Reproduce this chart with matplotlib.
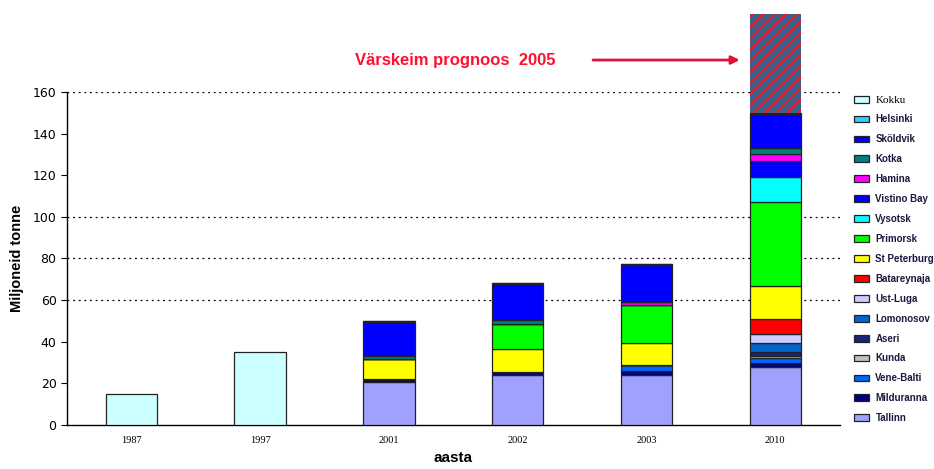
import matplotlib.pyplot as plt
import numpy as np

plt.rcParams['hatch.linewidth'] = 1.4

years = ['1987', '1997', '2001', '2002', '2003', '2010']

# million tonnes per port, bottom of the stack first
tallinn = [0, 0, 20.7, 24.0, 24.0, 27.7]
milduranna = [0, 0, 1.3, 1.6, 2.1, 2.1]
vene_balti = [0, 0, 0, 0, 2.7, 2.2]
kunda = [0, 0, 0, 0, 0, 1.2]
aseri = [0, 0, 0, 0, 0, 1.7]
lomonosov = [0, 0, 0, 0, 0, 4.7]
ust_luga = [0, 0, 0, 0, 0, 4.1]
batareynaja = [0, 0, 0, 0, 0, 7.3]
st_petersburg = [0, 0, 9.6, 10.8, 10.8, 16.0]
primorsk = [0, 0, 0, 12.2, 18.1, 40.0]
vysotsk = [0, 0, 0, 0, 0, 12.0]
vistino_bay = [0, 0, 0, 0, 0, 7.9]
hamina = [0, 0, 0, 0, 1.6, 3.1]
kotka = [0, 0, 1.6, 1.7, 0, 3.2]
skoldvik = [0, 0, 16.4, 17.3, 17.6, 16.3]
helsinki = [0, 0, 0.5, 0.5, 0.5, 0.5]
kokku = [15, 35, 0, 0, 0, 0]

prognoos_2005 = 197.5  # top of the hatched forecast box over 2010
grid_levels = [60, 80, 100, 160]

series = [
    ('Tallinn', tallinn, '#a0a0ff'),
    ('Milduranna', milduranna, '#000080'),
    ('Vene-Balti', vene_balti, '#0066ff'),
    ('Kunda', kunda, '#c0c0c0'),
    ('Aseri', aseri, '#1a237e'),
    ('Lomonosov', lomonosov, '#0066cc'),
    ('Ust-Luga', ust_luga, '#ccccff'),
    ('Batareynaja', batareynaja, '#ff0000'),
    ('St Peterburg', st_petersburg, '#ffff00'),
    ('Primorsk', primorsk, '#00ff00'),
    ('Vysotsk', vysotsk, '#00ffff'),
    ('Vistino Bay', vistino_bay, '#0000ff'),
    ('Hamina', hamina, '#ff00ff'),
    ('Kotka', kotka, '#008080'),
    ('Sköldvik', skoldvik, '#0000ff'),
    ('Helsinki', helsinki, '#33ccff'),
    ('Kokku', kokku, '#ccffff'),
]

fig = plt.figure(figsize=(9.34, 4.69), dpi=100)
ax = fig.add_axes([0.0717, 0.0938, 0.8273, 0.7102])

x = np.arange(len(years))
w = 0.4
bottom = np.zeros(len(years))
handles = []
for name, vals, col in series:
    vals = np.array(vals, dtype=float)
    b = ax.bar(x, vals, w, bottom=bottom, color=col, edgecolor='#222222',
               linewidth=0.9, zorder=3, label=name)
    handles.append(b)
    bottom += vals

# hatched forecast box
total_2010 = bottom[-1]
ax.bar(x[-1], prognoos_2005 - total_2010, w, bottom=total_2010, color='#3d5f88',
       edgecolor='#ff1020', hatch='///', linewidth=0, clip_on=False, zorder=3)

for g in grid_levels:
    ax.axhline(g, color='black', linestyle=(0, (1.5, 3)), linewidth=0.9, zorder=1)

ax.set_xlim(-0.5, 5.5)
ax.set_ylim(0, 160)
ax.set_yticks(range(0, 161, 20))
ax.set_xticks(x)
ax.set_xticklabels(years, fontsize=7.5, family='Liberation Serif')
ax.tick_params(axis='x', length=0, pad=8)
ax.tick_params(axis='y', labelsize=9, length=4, width=0.8)
for lab in ax.get_yticklabels():
    lab.set_family('DejaVu Sans')
ax.spines['top'].set_visible(False)
ax.spines['right'].set_visible(False)
ax.spines['left'].set_linewidth(1.0)
ax.spines['bottom'].set_linewidth(1.0)

ax.set_ylabel('Miljoneid tonne', fontsize=10.5, fontweight='bold', labelpad=6,
              family='Liberation Sans')
ax.set_xlabel('aasta', fontsize=11, fontweight='bold', labelpad=4,
              family='Liberation Sans')

fig.text(0.38, 0.872, 'Värskeim prognoos  2005', color='#ff1030', fontsize=12,
         fontweight='bold', family='Liberation Sans', va='center')
ax.annotate('', xy=(0.795, 0.872), xytext=(0.632, 0.872),
            xycoords='figure fraction', textcoords='figure fraction',
            arrowprops=dict(arrowstyle='-|>', color='#e0103a', lw=2,
                            mutation_scale=12))

leg = fig.legend(handles[::-1], [s[0] for s in series][::-1],
                 loc='upper left', bbox_to_anchor=(0.905, 0.815),
                 frameon=False, handlelength=1.5,
                 handleheight=0.7, handletextpad=0.7, labelspacing=1.02,
                 prop={'family': 'Liberation Sans', 'weight': 'bold', 'size': 7})
for t in leg.get_texts():
    t.set_color('#1a1a40')
leg.get_texts()[0].set_family('Liberation Serif')
leg.get_texts()[0].set_weight('normal')
leg.get_texts()[0].set_color('black')
leg.get_texts()[0].set_fontsize(8)

fig.savefig('out.png', dpi=100)
